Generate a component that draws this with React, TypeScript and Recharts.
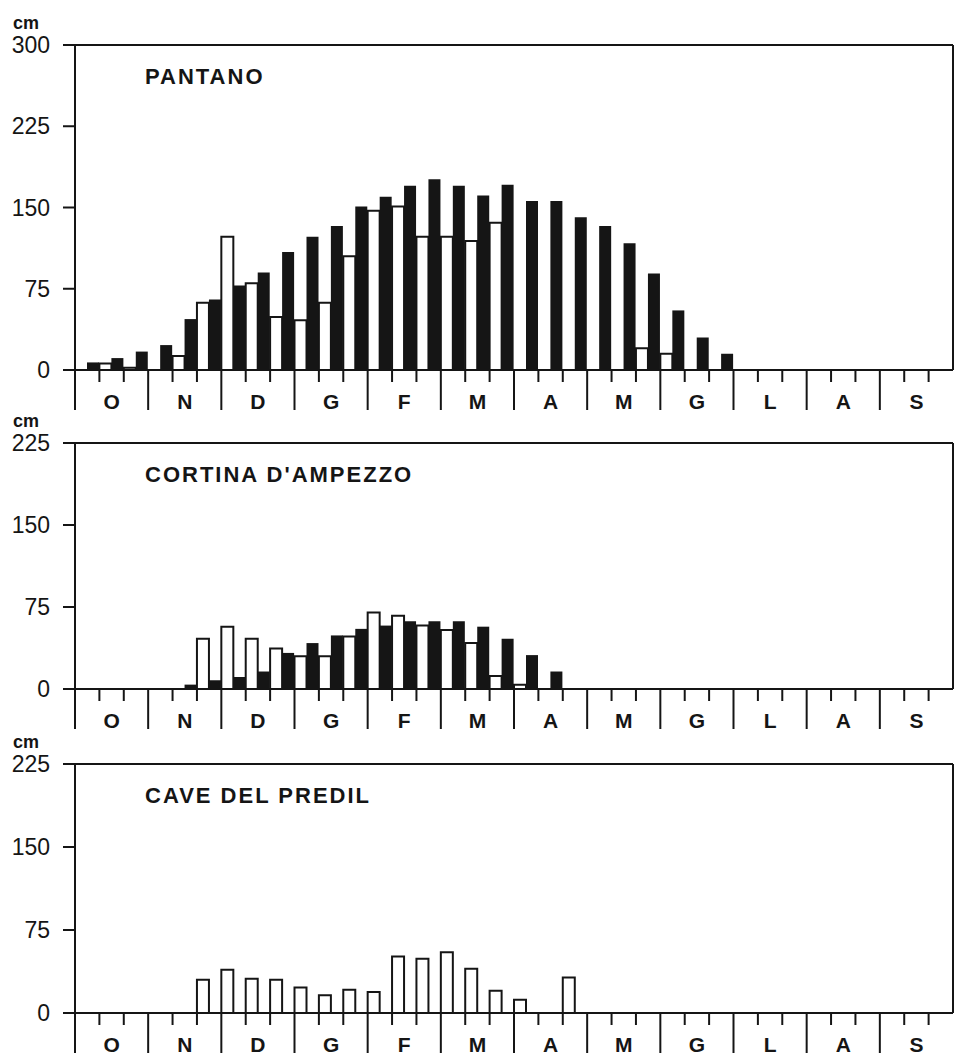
import { BarChart, Bar, XAxis, YAxis, ReferenceLine } from "recharts";

const MONTHS = ["O", "N", "D", "G", "F", "M", "A", "M", "G", "L", "A", "S"];

// each month split in 3 decadi -> 36 slots
const pantanoWhite = [0, 6, 2, 0, 13, 62, 123, 80, 49, 46, 62, 105, 147, 151, 123, 123, 119, 136, 0, 0, 0, 0, 0, 20, 15, 0, 0, 0, 0, 0, 0, 0, 0, 0, 0, 0];
const pantanoBlack = [7, 11, 17, 23, 47, 65, 78, 90, 109, 123, 133, 151, 160, 170, 176, 170, 161, 171, 156, 156, 141, 133, 117, 89, 55, 30, 15, 0, 0, 0, 0, 0, 0, 0, 0, 0];

const cortinaWhite = [0, 0, 0, 0, 0, 46, 57, 46, 37, 30, 30, 48, 70, 67, 58, 54, 42, 12, 4, 0, 0, 0, 0, 0, 0, 0, 0, 0, 0, 0, 0, 0, 0, 0, 0, 0];
const cortinaBlack = [0, 0, 0, 0, 4, 8, 11, 16, 33, 42, 49, 55, 58, 62, 62, 62, 57, 46, 31, 16, 0, 0, 0, 0, 0, 0, 0, 0, 0, 0, 0, 0, 0, 0, 0, 0];

const predilWhite = [0, 0, 0, 0, 0, 30, 39, 31, 30, 23, 16, 21, 19, 51, 49, 55, 40, 20, 12, 0, 32, 0, 0, 0, 0, 0, 0, 0, 0, 0, 0, 0, 0, 0, 0, 0];
const predilBlack = new Array(36).fill(0);

const FONT = "'Liberation Sans', Arial, Helvetica, sans-serif";
const INK = "#151515";

const slotTicks = Array.from({ length: 36 }, (_, i) => i);
const monthCenters = MONTHS.map((_, i) => i * 3 + 1.5);
const axisTicks = [...slotTicks, ...monthCenters];

function MonthTick(props: any) {
  const { x, y, payload } = props;
  const v = payload.value;
  if (v % 1 !== 0) {
    return (
      <text
        x={x}
        y={y + 31}
        textAnchor="middle"
        dominantBaseline="central"
        fontFamily={FONT}
        fontWeight="bold"
        fontSize={21}
        fill={INK}
      >
        {MONTHS[Math.floor(v / 3)]}
      </text>
    );
  }
  const len = v % 3 === 0 ? 40 : 12;
  return <line x1={x} y1={y} x2={x} y2={y + len} stroke={INK} strokeWidth={2} />;
}

type PanelProps = {
  title: string;
  plotTop: number;
  plotHeight: number;
  yMax: number;
  white: number[];
  black: number[];
};

function Panel({ title, plotTop, plotHeight, yMax, white, black }: PanelProps) {
  const data = white.map((w, i) => ({ slot: i, pos: i, white: w, black: black[i] }));
  const yTicks = [];
  for (let t = 0; t <= yMax; t += 75) yTicks.push(t);
  const bottom = 44;

  return (
    <>
      <div
        style={{
          position: "absolute",
          left: 13,
          top: plotTop - 31,
          fontFamily: FONT,
          fontWeight: "bold",
          fontSize: 18,
          lineHeight: "18px",
          color: INK,
        }}
      >
        cm
      </div>
      <div
        style={{
          position: "absolute",
          left: 145,
          top: plotTop + 21,
          fontFamily: FONT,
          fontWeight: "bold",
          fontSize: 22,
          lineHeight: "22px",
          letterSpacing: 2,
          color: INK,
          whiteSpace: "nowrap",
        }}
      >
        {title}
      </div>
      <div style={{ position: "absolute", left: 0, top: plotTop - 20 }}>
        <BarChart
          width={955}
          height={20 + plotHeight + bottom}
          data={data}
          margin={{ top: 20, right: 2, left: 15, bottom: 0 }}
          barCategoryGap={0}
          barGap={0}
        >
          <XAxis dataKey="slot" hide height={0} />
          <XAxis
            xAxisId="num"
            dataKey="pos"
            type="number"
            domain={[0, 36]}
            ticks={axisTicks}
            interval={0}
            height={bottom}
            tickLine={false}
            tickSize={0}
            tickMargin={0}
            axisLine={{ stroke: INK, strokeWidth: 2 }}
            tick={<MonthTick />}
          />
          <YAxis
            domain={[0, yMax]}
            ticks={yTicks}
            interval={0}
            width={60}
            tickSize={12}
            tickMargin={13}
            axisLine={{ stroke: INK, strokeWidth: 2 }}
            tickLine={{ stroke: INK, strokeWidth: 2 }}
            tick={{ fill: INK, fontSize: 23, fontFamily: FONT }}
          />
          <ReferenceLine y={yMax} stroke={INK} strokeWidth={2} />
          <ReferenceLine xAxisId="num" x={36} stroke={INK} strokeWidth={2} />
          <Bar dataKey="white" fill="#fff" stroke={INK} strokeWidth={2} isAnimationActive={false} />
          <Bar dataKey="black" fill={INK} isAnimationActive={false} />
        </BarChart>
      </div>
    </>
  );
}

export default function App() {
  return (
    <div style={{ position: "absolute", left: 0, top: 0, width: 955, height: 1057, background: "#fff" }}>
      <Panel title="PANTANO" plotTop={45} plotHeight={325} yMax={300} white={pantanoWhite} black={pantanoBlack} />
      <Panel title="CORTINA D'AMPEZZO" plotTop={443} plotHeight={246} yMax={225} white={cortinaWhite} black={cortinaBlack} />
      <Panel title="CAVE DEL PREDIL" plotTop={764} plotHeight={249} yMax={225} white={predilWhite} black={predilBlack} />
    </div>
  );
}
